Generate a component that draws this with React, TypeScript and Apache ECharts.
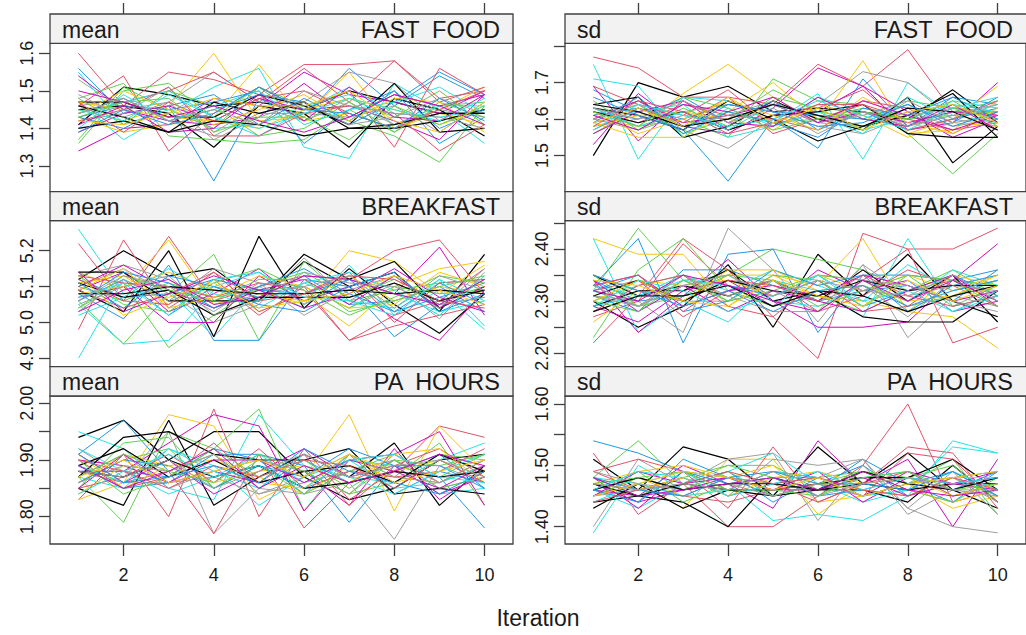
import React, { useEffect, useRef } from "react";
import * as echarts from "echarts";

const iterations = [1, 2, 3, 4, 5, 6, 7, 8, 9, 10];
const chainColors = ["#000000", "#DF536B", "#61D04F", "#2297E6", "#28E2E5", "#CD0BBC", "#F5C710", "#9E9E9E"];
const statNames = ["mean", "sd"];
const variableNames = ["FAST  FOOD", "BREAKFAST", "PA  HOURS"];
const xTickValues = [2, 4, 6, 8, 10];
const xAxisTitle = "Iteration";

const meanFastFood = [
  [1.41, 1.51, 1.49, 1.46, 1.47, 1.45, 1.50, 1.47, 1.44, 1.44],
  [1.60, 1.46, 1.55, 1.53, 1.49, 1.57, 1.57, 1.58, 1.48, 1.50],
  [1.36, 1.50, 1.52, 1.43, 1.51, 1.46, 1.42, 1.38, 1.31, 1.46],
  [1.56, 1.44, 1.46, 1.26, 1.48, 1.43, 1.56, 1.46, 1.54, 1.48],
  [1.47, 1.37, 1.44, 1.51, 1.56, 1.35, 1.32, 1.52, 1.45, 1.36],
  [1.34, 1.40, 1.41, 1.48, 1.46, 1.55, 1.49, 1.47, 1.44, 1.50],
  [1.45, 1.42, 1.46, 1.60, 1.42, 1.43, 1.55, 1.40, 1.45, 1.51],
  [1.53, 1.45, 1.47, 1.55, 1.47, 1.47, 1.55, 1.52, 1.42, 1.45],
  [1.45, 1.46, 1.44, 1.35, 1.46, 1.44, 1.35, 1.48, 1.45, 1.38],
  [1.46, 1.54, 1.34, 1.44, 1.51, 1.45, 1.50, 1.35, 1.56, 1.49],
  [1.48, 1.52, 1.38, 1.37, 1.36, 1.37, 1.45, 1.39, 1.46, 1.47],
  [1.43, 1.46, 1.45, 1.47, 1.50, 1.36, 1.45, 1.50, 1.36, 1.43],
  [1.55, 1.41, 1.45, 1.40, 1.41, 1.46, 1.49, 1.41, 1.46, 1.46],
  [1.54, 1.45, 1.42, 1.41, 1.43, 1.52, 1.43, 1.49, 1.46, 1.49],
  [1.43, 1.39, 1.41, 1.43, 1.57, 1.42, 1.44, 1.40, 1.44, 1.41],
  [1.46, 1.48, 1.42, 1.38, 1.44, 1.44, 1.43, 1.46, 1.39, 1.47],
  [1.47, 1.47, 1.43, 1.43, 1.49, 1.46, 1.41, 1.52, 1.39, 1.40],
  [1.44, 1.47, 1.50, 1.55, 1.47, 1.56, 1.47, 1.58, 1.47, 1.51],
  [1.37, 1.51, 1.45, 1.40, 1.51, 1.42, 1.48, 1.43, 1.50, 1.41],
  [1.44, 1.48, 1.42, 1.45, 1.49, 1.47, 1.41, 1.47, 1.55, 1.49],
  [1.44, 1.47, 1.50, 1.43, 1.38, 1.45, 1.51, 1.44, 1.43, 1.45],
  [1.39, 1.44, 1.46, 1.42, 1.48, 1.45, 1.46, 1.42, 1.37, 1.49],
  [1.47, 1.45, 1.43, 1.42, 1.40, 1.45, 1.48, 1.45, 1.41, 1.45],
  [1.42, 1.44, 1.51, 1.39, 1.46, 1.42, 1.47, 1.41, 1.45, 1.43],
  [1.46, 1.43, 1.39, 1.47, 1.44, 1.47, 1.40, 1.40, 1.42, 1.45],
  [1.42, 1.45, 1.51, 1.38, 1.38, 1.44, 1.46, 1.44, 1.34, 1.41],
  [1.48, 1.41, 1.50, 1.46, 1.38, 1.40, 1.47, 1.39, 1.47, 1.43],
  [1.43, 1.40, 1.46, 1.49, 1.41, 1.48, 1.42, 1.50, 1.40, 1.45],
  [1.40, 1.49, 1.42, 1.46, 1.50, 1.41, 1.45, 1.47, 1.51, 1.44],
  [1.41, 1.46, 1.39, 1.40, 1.49, 1.42, 1.51, 1.43, 1.42, 1.49],
  [1.44, 1.50, 1.45, 1.41, 1.45, 1.49, 1.42, 1.48, 1.47, 1.39],
  [1.49, 1.43, 1.47, 1.37, 1.43, 1.47, 1.41, 1.43, 1.48, 1.44],
  [1.40, 1.42, 1.39, 1.42, 1.41, 1.38, 1.40, 1.41, 1.44, 1.44],
  [1.47, 1.39, 1.47, 1.42, 1.48, 1.50, 1.44, 1.40, 1.45, 1.50],
  [1.43, 1.47, 1.48, 1.39, 1.43, 1.43, 1.37, 1.46, 1.41, 1.46],
  [1.39, 1.45, 1.41, 1.44, 1.51, 1.45, 1.44, 1.40, 1.48, 1.42],
  [1.45, 1.42, 1.49, 1.43, 1.40, 1.44, 1.48, 1.45, 1.42, 1.48],
  [1.50, 1.47, 1.43, 1.46, 1.42, 1.39, 1.43, 1.49, 1.46, 1.41],
  [1.42, 1.41, 1.44, 1.48, 1.46, 1.46, 1.50, 1.42, 1.39, 1.47],
  [1.44, 1.48, 1.42, 1.45, 1.41, 1.50, 1.46, 1.44, 1.43, 1.40],
];

const sdFastFood = [
  [1.50, 1.70, 1.66, 1.69, 1.62, 1.63, 1.62, 1.60, 1.68, 1.59],
  [1.77, 1.74, 1.66, 1.66, 1.64, 1.75, 1.69, 1.79, 1.62, 1.62],
  [1.63, 1.58, 1.60, 1.55, 1.71, 1.65, 1.64, 1.56, 1.45, 1.56],
  [1.68, 1.62, 1.57, 1.43, 1.60, 1.52, 1.71, 1.58, 1.66, 1.64],
  [1.75, 1.49, 1.66, 1.65, 1.59, 1.67, 1.49, 1.70, 1.61, 1.59],
  [1.53, 1.67, 1.58, 1.56, 1.63, 1.74, 1.69, 1.57, 1.59, 1.70],
  [1.60, 1.58, 1.67, 1.75, 1.66, 1.59, 1.76, 1.56, 1.60, 1.69],
  [1.61, 1.65, 1.57, 1.52, 1.60, 1.64, 1.73, 1.70, 1.60, 1.58],
  [1.64, 1.66, 1.55, 1.58, 1.65, 1.60, 1.57, 1.66, 1.48, 1.58],
  [1.69, 1.64, 1.61, 1.68, 1.58, 1.63, 1.68, 1.58, 1.63, 1.61],
  [1.60, 1.64, 1.56, 1.60, 1.68, 1.62, 1.60, 1.58, 1.62, 1.65],
  [1.62, 1.60, 1.66, 1.59, 1.65, 1.57, 1.62, 1.57, 1.60, 1.63],
  [1.71, 1.69, 1.55, 1.63, 1.58, 1.66, 1.62, 1.58, 1.65, 1.63],
  [1.69, 1.54, 1.65, 1.57, 1.61, 1.62, 1.69, 1.62, 1.55, 1.60],
  [1.59, 1.55, 1.55, 1.62, 1.70, 1.60, 1.64, 1.56, 1.57, 1.65],
  [1.58, 1.60, 1.62, 1.64, 1.62, 1.58, 1.56, 1.61, 1.63, 1.62],
  [1.63, 1.61, 1.57, 1.65, 1.60, 1.54, 1.58, 1.61, 1.67, 1.55],
  [1.62, 1.59, 1.64, 1.61, 1.60, 1.57, 1.65, 1.63, 1.56, 1.62],
  [1.56, 1.63, 1.58, 1.62, 1.59, 1.60, 1.63, 1.60, 1.61, 1.62],
  [1.61, 1.63, 1.60, 1.64, 1.62, 1.61, 1.60, 1.64, 1.59, 1.66],
  [1.59, 1.62, 1.64, 1.55, 1.58, 1.62, 1.57, 1.60, 1.64, 1.62],
  [1.60, 1.65, 1.59, 1.61, 1.64, 1.59, 1.62, 1.59, 1.62, 1.61],
  [1.58, 1.61, 1.62, 1.60, 1.57, 1.64, 1.61, 1.55, 1.59, 1.58],
  [1.60, 1.57, 1.61, 1.60, 1.64, 1.59, 1.58, 1.62, 1.58, 1.60],
  [1.62, 1.59, 1.62, 1.57, 1.61, 1.62, 1.64, 1.56, 1.55, 1.55],
  [1.57, 1.63, 1.59, 1.66, 1.56, 1.60, 1.64, 1.60, 1.57, 1.59],
  [1.65, 1.57, 1.63, 1.58, 1.66, 1.63, 1.57, 1.65, 1.63, 1.60],
  [1.59, 1.66, 1.56, 1.62, 1.59, 1.55, 1.63, 1.61, 1.66, 1.60],
  [1.63, 1.58, 1.62, 1.57, 1.64, 1.61, 1.56, 1.66, 1.60, 1.64],
  [1.56, 1.62, 1.65, 1.59, 1.58, 1.66, 1.60, 1.58, 1.64, 1.57],
  [1.62, 1.56, 1.60, 1.65, 1.61, 1.57, 1.66, 1.59, 1.56, 1.63],
  [1.60, 1.64, 1.58, 1.61, 1.65, 1.59, 1.61, 1.65, 1.59, 1.61],
  [1.64, 1.62, 1.58, 1.60, 1.64, 1.61, 1.58, 1.63, 1.62, 1.57],
  [1.58, 1.65, 1.62, 1.56, 1.59, 1.64, 1.64, 1.57, 1.60, 1.65],
  [1.62, 1.58, 1.66, 1.63, 1.57, 1.60, 1.62, 1.60, 1.65, 1.58],
  [1.66, 1.61, 1.57, 1.64, 1.62, 1.58, 1.59, 1.64, 1.58, 1.62],
  [1.57, 1.64, 1.61, 1.58, 1.60, 1.65, 1.61, 1.57, 1.63, 1.66],
  [1.61, 1.57, 1.64, 1.62, 1.66, 1.59, 1.65, 1.61, 1.57, 1.61],
  [1.59, 1.63, 1.58, 1.66, 1.59, 1.63, 1.57, 1.62, 1.64, 1.59],
  [1.63, 1.60, 1.65, 1.59, 1.63, 1.56, 1.62, 1.58, 1.61, 1.64],
];

const meanBreakfast = [
  [5.12, 5.20, 5.13, 5.15, 5.06, 5.17, 5.10, 5.14, 5.03, 5.19],
  [5.22, 5.06, 5.24, 5.06, 5.10, 5.13, 5.12, 5.20, 5.23, 5.08],
  [5.06, 4.94, 5.08, 5.19, 4.95, 5.17, 5.06, 5.09, 5.11, 5.12],
  [5.08, 5.01, 5.16, 4.95, 4.95, 5.12, 5.10, 4.96, 5.05, 5.07],
  [5.26, 5.08, 5.09, 4.96, 5.10, 5.04, 5.16, 5.02, 5.09, 4.98],
  [5.09, 5.14, 5.03, 5.08, 5.15, 5.05, 5.12, 5.08, 5.21, 5.02],
  [5.14, 5.09, 5.23, 5.05, 5.09, 5.05, 5.20, 5.17, 5.08, 5.16],
  [5.10, 5.15, 5.08, 5.00, 5.05, 5.18, 5.06, 5.13, 5.04, 5.12],
  [5.09, 5.03, 5.20, 4.96, 5.24, 5.04, 5.15, 5.05, 4.97, 5.08],
  [4.98, 5.23, 5.04, 5.12, 5.02, 5.10, 4.95, 5.02, 5.06, 5.15],
  [5.04, 5.11, 4.93, 5.02, 5.10, 5.14, 5.07, 5.12, 5.06, 5.10],
  [5.06, 5.12, 5.02, 5.10, 5.07, 5.13, 5.05, 5.06, 5.10, 5.03],
  [4.90, 5.12, 5.06, 5.10, 5.14, 5.05, 5.12, 5.08, 5.03, 5.06],
  [5.07, 5.10, 5.00, 5.00, 5.13, 5.06, 5.10, 5.01, 4.95, 5.09],
  [5.11, 5.13, 5.05, 5.12, 5.03, 5.08, 4.99, 5.10, 5.15, 5.17],
  [5.13, 5.16, 5.12, 5.04, 5.08, 5.10, 5.04, 5.11, 5.01, 5.14],
  [5.14, 5.14, 5.06, 5.06, 5.06, 5.19, 5.12, 5.17, 5.04, 5.10],
  [5.09, 5.04, 5.08, 5.14, 5.06, 5.08, 5.14, 5.00, 5.11, 5.12],
  [5.10, 5.06, 5.11, 5.07, 5.09, 5.10, 5.04, 5.10, 5.08, 5.09],
  [5.12, 5.07, 5.08, 5.12, 5.09, 5.08, 5.12, 5.03, 5.07, 5.11],
  [5.05, 4.94, 4.95, 5.09, 5.06, 5.11, 5.06, 5.04, 5.12, 4.99],
  [5.10, 5.16, 5.09, 5.04, 5.09, 5.12, 5.05, 5.13, 5.04, 5.10],
  [5.08, 5.10, 5.14, 5.09, 5.08, 5.06, 5.13, 5.06, 5.10, 5.08],
  [5.03, 5.12, 5.06, 5.15, 5.11, 5.02, 5.09, 5.13, 5.05, 5.07],
  [5.11, 5.07, 5.09, 5.02, 5.07, 5.07, 5.07, 5.11, 5.06, 5.09],
  [5.13, 5.11, 5.10, 5.07, 5.11, 5.09, 4.95, 4.99, 5.02, 5.05],
  [5.13, 5.05, 5.03, 5.11, 5.15, 5.09, 5.02, 5.07, 5.13, 5.11],
  [5.06, 5.14, 5.11, 5.04, 5.10, 5.15, 5.08, 5.03, 5.11, 5.05],
  [5.02, 5.07, 5.15, 5.08, 5.04, 5.11, 5.14, 5.09, 5.02, 5.13],
  [5.14, 5.03, 5.08, 5.13, 5.09, 5.04, 5.08, 5.15, 5.07, 5.03],
  [5.09, 5.15, 5.04, 5.07, 5.13, 5.10, 5.04, 5.05, 5.14, 5.10],
  [5.05, 5.10, 5.13, 5.02, 5.06, 5.14, 5.11, 5.10, 5.04, 5.15],
  [5.08, 5.08, 5.10, 5.09, 5.08, 5.08, 5.09, 5.08, 5.09, 5.08],
  [5.12, 5.06, 5.05, 5.14, 5.03, 5.08, 5.13, 5.12, 5.06, 5.04],
  [5.04, 5.13, 5.09, 5.06, 5.12, 5.12, 5.03, 5.06, 5.10, 5.13],
  [5.11, 5.04, 5.13, 5.10, 5.05, 5.03, 5.10, 5.14, 5.03, 5.08],
  [5.07, 5.11, 5.02, 5.12, 5.14, 5.07, 5.06, 5.02, 5.12, 5.06],
  [5.03, 5.09, 5.12, 5.05, 5.07, 5.13, 5.12, 5.08, 5.05, 5.12],
  [5.13, 5.02, 5.07, 5.11, 5.04, 5.06, 5.08, 5.13, 5.09, 5.05],
  [5.06, 5.13, 5.10, 5.03, 5.11, 5.10, 5.13, 5.04, 5.13, 5.09],
];

const sdBreakfast = [
  [2.30, 2.25, 2.29, 2.37, 2.25, 2.39, 2.31, 2.39, 2.30, 2.27],
  [2.22, 2.31, 2.42, 2.36, 2.27, 2.19, 2.43, 2.40, 2.40, 2.44],
  [2.32, 2.44, 2.34, 2.35, 2.40, 2.38, 2.36, 2.32, 2.34, 2.33],
  [2.33, 2.42, 2.22, 2.39, 2.40, 2.24, 2.35, 2.35, 2.34, 2.36],
  [2.42, 2.24, 2.30, 2.26, 2.34, 2.32, 2.27, 2.42, 2.29, 2.31],
  [2.34, 2.24, 2.31, 2.38, 2.30, 2.25, 2.25, 2.26, 2.34, 2.41],
  [2.42, 2.39, 2.39, 2.29, 2.35, 2.33, 2.42, 2.28, 2.27, 2.21],
  [2.31, 2.30, 2.24, 2.44, 2.36, 2.26, 2.37, 2.23, 2.31, 2.29],
  [2.35, 2.31, 2.33, 2.31, 2.34, 2.30, 2.36, 2.30, 2.35, 2.26],
  [2.27, 2.30, 2.41, 2.33, 2.31, 2.35, 2.34, 2.40, 2.22, 2.25],
  [2.23, 2.36, 2.42, 2.32, 2.29, 2.31, 2.28, 2.32, 2.36, 2.31],
  [2.31, 2.28, 2.36, 2.36, 2.33, 2.30, 2.32, 2.33, 2.30, 2.36],
  [2.33, 2.31, 2.35, 2.32, 2.36, 2.33, 2.30, 2.37, 2.32, 2.34],
  [2.29, 2.26, 2.32, 2.34, 2.29, 2.36, 2.32, 2.34, 2.28, 2.30],
  [2.26, 2.32, 2.30, 2.35, 2.35, 2.31, 2.30, 2.28, 2.35, 2.33],
  [2.35, 2.32, 2.30, 2.30, 2.32, 2.28, 2.37, 2.31, 2.33, 2.32],
  [2.29, 2.32, 2.32, 2.36, 2.30, 2.32, 2.27, 2.26, 2.26, 2.32],
  [2.32, 2.34, 2.27, 2.32, 2.34, 2.28, 2.31, 2.36, 2.33, 2.29],
  [2.30, 2.33, 2.35, 2.30, 2.32, 2.35, 2.34, 2.29, 2.31, 2.34],
  [2.34, 2.30, 2.31, 2.33, 2.31, 2.34, 2.29, 2.32, 2.35, 2.31],
  [2.32, 2.29, 2.33, 2.35, 2.30, 2.29, 2.33, 2.30, 2.36, 2.33],
  [2.33, 2.35, 2.29, 2.32, 2.33, 2.31, 2.35, 2.33, 2.30, 2.32],
  [2.30, 2.34, 2.33, 2.34, 2.31, 2.35, 2.32, 2.35, 2.32, 2.35],
  [2.32, 2.29, 2.34, 2.31, 2.34, 2.30, 2.33, 2.27, 2.34, 2.31],
  [2.31, 2.34, 2.30, 2.34, 2.32, 2.31, 2.34, 2.32, 2.33, 2.33],
  [2.28, 2.33, 2.35, 2.29, 2.27, 2.34, 2.28, 2.29, 2.35, 2.30],
  [2.35, 2.29, 2.31, 2.35, 2.34, 2.29, 2.32, 2.35, 2.29, 2.33],
  [2.32, 2.35, 2.28, 2.30, 2.36, 2.33, 2.35, 2.28, 2.33, 2.35],
  [2.29, 2.31, 2.34, 2.33, 2.29, 2.35, 2.29, 2.34, 2.28, 2.32],
  [2.34, 2.28, 2.33, 2.28, 2.32, 2.30, 2.28, 2.32, 2.35, 2.29],
  [2.30, 2.34, 2.30, 2.36, 2.36, 2.32, 2.33, 2.30, 2.31, 2.35],
  [2.33, 2.29, 2.35, 2.31, 2.28, 2.28, 2.34, 2.33, 2.30, 2.28],
  [2.28, 2.31, 2.31, 2.33, 2.29, 2.32, 2.31, 2.28, 2.31, 2.33],
  [2.33, 2.35, 2.28, 2.34, 2.33, 2.30, 2.35, 2.31, 2.29, 2.31],
  [2.30, 2.28, 2.34, 2.30, 2.35, 2.34, 2.29, 2.35, 2.34, 2.29],
  [2.35, 2.32, 2.29, 2.32, 2.28, 2.32, 2.33, 2.29, 2.32, 2.34],
  [2.29, 2.34, 2.32, 2.28, 2.31, 2.35, 2.30, 2.32, 2.28, 2.31],
  [2.32, 2.30, 2.35, 2.33, 2.30, 2.28, 2.34, 2.30, 2.34, 2.30],
  [2.34, 2.33, 2.30, 2.29, 2.34, 2.31, 2.29, 2.34, 2.30, 2.33],
  [2.31, 2.29, 2.33, 2.35, 2.31, 2.34, 2.32, 2.31, 2.35, 2.30],
];

const meanPaHours = [
  [1.94, 1.97, 1.90, 1.95, 1.95, 1.87, 1.83, 1.85, 1.90, 1.91],
  [1.83, 1.91, 1.80, 1.99, 1.80, 1.92, 1.83, 1.88, 1.96, 1.94],
  [1.87, 1.79, 1.95, 1.92, 1.99, 1.81, 1.91, 1.87, 1.93, 1.82],
  [1.91, 1.97, 1.88, 1.91, 1.91, 1.89, 1.79, 1.89, 1.87, 1.78],
  [1.95, 1.92, 1.85, 1.83, 1.98, 1.89, 1.87, 1.86, 1.90, 1.93],
  [1.88, 1.88, 1.93, 1.98, 1.96, 1.81, 1.90, 1.91, 1.95, 1.82],
  [1.83, 1.86, 1.98, 1.96, 1.83, 1.87, 1.98, 1.81, 1.96, 1.88],
  [1.92, 1.87, 1.95, 1.77, 1.85, 1.84, 1.86, 1.76, 1.89, 1.86],
  [1.85, 1.82, 1.97, 1.82, 1.87, 1.91, 1.87, 1.93, 1.82, 1.89],
  [1.88, 1.86, 1.88, 1.77, 1.91, 1.78, 1.86, 1.90, 1.86, 1.89],
  [1.85, 1.93, 1.94, 1.85, 1.90, 1.88, 1.84, 1.86, 1.91, 1.90],
  [1.88, 1.88, 1.87, 1.92, 1.90, 1.84, 1.91, 1.84, 1.88, 1.86],
  [1.87, 1.85, 1.92, 1.89, 1.82, 1.87, 1.90, 1.89, 1.84, 1.85],
  [1.90, 1.89, 1.86, 1.88, 1.86, 1.88, 1.82, 1.92, 1.83, 1.88],
  [1.86, 1.91, 1.89, 1.90, 1.87, 1.84, 1.89, 1.87, 1.86, 1.90],
  [1.89, 1.86, 1.86, 1.87, 1.84, 1.86, 1.88, 1.90, 1.85, 1.87],
  [1.87, 1.94, 1.95, 1.91, 1.90, 1.90, 1.92, 1.84, 1.85, 1.84],
  [1.90, 1.85, 1.87, 1.93, 1.86, 1.91, 1.82, 1.89, 1.92, 1.87],
  [1.86, 1.90, 1.92, 1.85, 1.89, 1.84, 1.88, 1.91, 1.87, 1.91],
  [1.89, 1.85, 1.86, 1.91, 1.85, 1.90, 1.86, 1.88, 1.91, 1.85],
  [1.92, 1.88, 1.84, 1.87, 1.91, 1.86, 1.90, 1.85, 1.86, 1.89],
  [1.91, 1.86, 1.90, 1.84, 1.88, 1.92, 1.87, 1.89, 1.84, 1.87],
  [1.84, 1.89, 1.88, 1.91, 1.86, 1.85, 1.91, 1.88, 1.90, 1.86],
  [1.87, 1.91, 1.85, 1.88, 1.90, 1.88, 1.84, 1.91, 1.86, 1.90],
  [1.89, 1.92, 1.87, 1.90, 1.86, 1.88, 1.89, 1.86, 1.91, 1.88],
  [1.85, 1.87, 1.91, 1.86, 1.92, 1.85, 1.88, 1.87, 1.88, 1.92],
  [1.90, 1.84, 1.87, 1.92, 1.87, 1.90, 1.85, 1.90, 1.85, 1.87],
  [1.86, 1.90, 1.89, 1.85, 1.89, 1.87, 1.92, 1.89, 1.89, 1.85],
  [1.89, 1.86, 1.92, 1.88, 1.85, 1.91, 1.87, 1.84, 1.88, 1.91],
  [1.85, 1.91, 1.86, 1.90, 1.90, 1.86, 1.90, 1.88, 1.85, 1.89],
  [1.91, 1.85, 1.89, 1.86, 1.88, 1.89, 1.86, 1.91, 1.92, 1.86],
  [1.86, 1.89, 1.88, 1.91, 1.84, 1.87, 1.91, 1.87, 1.86, 1.90],
  [1.88, 1.87, 1.90, 1.87, 1.89, 1.85, 1.86, 1.88, 1.87, 1.88],
  [1.90, 1.88, 1.85, 1.89, 1.87, 1.90, 1.89, 1.85, 1.90, 1.86],
  [1.87, 1.91, 1.88, 1.86, 1.91, 1.88, 1.84, 1.90, 1.89, 1.91],
  [1.91, 1.86, 1.87, 1.89, 1.86, 1.92, 1.88, 1.86, 1.84, 1.88],
  [1.84, 1.88, 1.91, 1.87, 1.89, 1.85, 1.90, 1.91, 1.87, 1.86],
  [1.89, 1.85, 1.88, 1.92, 1.85, 1.89, 1.86, 1.88, 1.91, 1.89],
  [1.87, 1.90, 1.86, 1.88, 1.90, 1.87, 1.91, 1.86, 1.88, 1.90],
  [1.88, 1.87, 1.90, 1.85, 1.88, 1.91, 1.87, 1.89, 1.90, 1.87],
];

const sdPaHours = [
  [1.51, 1.46, 1.53, 1.51, 1.45, 1.53, 1.47, 1.52, 1.46, 1.43],
  [1.52, 1.42, 1.47, 1.40, 1.40, 1.45, 1.50, 1.60, 1.44, 1.46],
  [1.48, 1.54, 1.47, 1.50, 1.48, 1.48, 1.49, 1.47, 1.51, 1.42],
  [1.54, 1.52, 1.49, 1.48, 1.45, 1.47, 1.50, 1.45, 1.48, 1.49],
  [1.39, 1.50, 1.46, 1.47, 1.41, 1.42, 1.41, 1.45, 1.54, 1.52],
  [1.46, 1.45, 1.50, 1.47, 1.43, 1.54, 1.47, 1.51, 1.40, 1.51],
  [1.43, 1.47, 1.43, 1.51, 1.51, 1.42, 1.47, 1.46, 1.44, 1.46],
  [1.40, 1.51, 1.47, 1.51, 1.52, 1.41, 1.50, 1.43, 1.40, 1.39],
  [1.44, 1.45, 1.44, 1.40, 1.48, 1.46, 1.46, 1.44, 1.50, 1.44],
  [1.49, 1.51, 1.49, 1.43, 1.53, 1.44, 1.47, 1.53, 1.52, 1.43],
  [1.47, 1.45, 1.48, 1.50, 1.50, 1.46, 1.49, 1.48, 1.50, 1.44],
  [1.47, 1.44, 1.51, 1.48, 1.47, 1.46, 1.51, 1.47, 1.44, 1.49],
  [1.46, 1.43, 1.47, 1.49, 1.52, 1.47, 1.44, 1.46, 1.53, 1.52],
  [1.48, 1.43, 1.49, 1.46, 1.49, 1.48, 1.45, 1.49, 1.47, 1.46],
  [1.47, 1.49, 1.50, 1.48, 1.50, 1.44, 1.45, 1.47, 1.43, 1.45],
  [1.45, 1.46, 1.48, 1.45, 1.51, 1.50, 1.51, 1.43, 1.49, 1.42],
  [1.43, 1.47, 1.43, 1.46, 1.46, 1.47, 1.48, 1.48, 1.51, 1.46],
  [1.45, 1.47, 1.45, 1.44, 1.46, 1.47, 1.45, 1.52, 1.51, 1.44],
  [1.46, 1.49, 1.44, 1.47, 1.48, 1.45, 1.49, 1.46, 1.44, 1.48],
  [1.48, 1.45, 1.47, 1.49, 1.44, 1.48, 1.45, 1.47, 1.49, 1.45],
  [1.44, 1.47, 1.49, 1.45, 1.47, 1.46, 1.48, 1.49, 1.45, 1.47],
  [1.47, 1.44, 1.46, 1.48, 1.46, 1.49, 1.44, 1.48, 1.47, 1.49],
  [1.45, 1.48, 1.45, 1.46, 1.49, 1.47, 1.46, 1.45, 1.48, 1.48],
  [1.47, 1.46, 1.45, 1.48, 1.47, 1.48, 1.51, 1.42, 1.46, 1.45],
  [1.47, 1.45, 1.47, 1.46, 1.45, 1.46, 1.47, 1.46, 1.47, 1.47],
  [1.49, 1.46, 1.48, 1.45, 1.47, 1.44, 1.47, 1.49, 1.45, 1.47],
  [1.45, 1.48, 1.46, 1.49, 1.45, 1.47, 1.49, 1.47, 1.48, 1.45],
  [1.46, 1.44, 1.49, 1.47, 1.48, 1.45, 1.46, 1.48, 1.46, 1.49],
  [1.48, 1.47, 1.45, 1.46, 1.49, 1.48, 1.45, 1.46, 1.49, 1.46],
  [1.45, 1.49, 1.47, 1.48, 1.46, 1.46, 1.48, 1.45, 1.47, 1.48],
  [1.47, 1.46, 1.48, 1.45, 1.48, 1.49, 1.47, 1.48, 1.45, 1.47],
  [1.49, 1.47, 1.46, 1.47, 1.45, 1.47, 1.45, 1.47, 1.48, 1.44],
  [1.46, 1.48, 1.46, 1.47, 1.47, 1.46, 1.49, 1.47, 1.46, 1.48],
  [1.44, 1.46, 1.47, 1.49, 1.47, 1.48, 1.46, 1.45, 1.48, 1.46],
  [1.47, 1.48, 1.49, 1.46, 1.46, 1.45, 1.48, 1.49, 1.46, 1.47],
  [1.48, 1.46, 1.45, 1.48, 1.49, 1.47, 1.47, 1.46, 1.49, 1.45],
  [1.46, 1.49, 1.48, 1.45, 1.47, 1.49, 1.46, 1.48, 1.47, 1.48],
  [1.48, 1.45, 1.46, 1.47, 1.48, 1.46, 1.49, 1.46, 1.45, 1.46],
  [1.45, 1.47, 1.49, 1.48, 1.46, 1.48, 1.45, 1.47, 1.48, 1.49],
  [1.47, 1.46, 1.47, 1.46, 1.49, 1.45, 1.47, 1.48, 1.46, 1.46],
];

// y-axis ticks and labelled ticks per panel
const meanFastFoodTicks = [1.3, 1.4, 1.5, 1.6];
const meanFastFoodLabels = [1.3, 1.4, 1.5, 1.6];
const sdFastFoodTicks = [1.5, 1.6, 1.7, 1.8];
const sdFastFoodLabels = [1.5, 1.6, 1.7];
const meanBreakfastTicks = [4.9, 5.0, 5.1, 5.2];
const meanBreakfastLabels = [4.9, 5.0, 5.1, 5.2];
const sdBreakfastTicks = [2.2, 2.25, 2.3, 2.35, 2.4, 2.45];
const sdBreakfastLabels = [2.2, 2.3, 2.4];
const meanPaHoursTicks = [1.75, 1.8, 1.85, 1.9, 1.95, 2.0];
const meanPaHoursLabels = [1.8, 1.9, 2.0];
const sdPaHoursTicks = [1.4, 1.45, 1.5, 1.55, 1.6];
const sdPaHoursLabels = [1.4, 1.5, 1.6];

const FONT = "'Liberation Sans', Arial, Helvetica, sans-serif";
const FRAME = "#404040";
const TEXT = "#1a1a1a";

// layout
const colLeft = [50, 565];
const colWidth = [463, 464];
const stripTop = [14, 191.7, 366.7];
const panelTop = [43.3, 220.7, 396];
const panelBottom = [191.7, 366.7, 544];

const panels = [
  { row: 0, col: 0, data: meanFastFood, min: 1.2316, max: 1.6266, ticks: meanFastFoodTicks, labels: meanFastFoodLabels, digits: 1 },
  { row: 0, col: 1, data: sdFastFood, min: 1.401, max: 1.8076, ticks: sdFastFoodTicks, labels: sdFastFoodLabels, digits: 1 },
  { row: 1, col: 0, data: meanBreakfast, min: 4.8766, max: 5.2836, ticks: meanBreakfastTicks, labels: meanBreakfastLabels, digits: 1 },
  { row: 1, col: 1, data: sdBreakfast, min: 2.1743, max: 2.4543, ticks: sdBreakfastTicks, labels: sdBreakfastLabels, digits: 2 },
  { row: 2, col: 0, data: meanPaHours, min: 1.7518, max: 2.0129, ticks: meanPaHoursTicks, labels: meanPaHoursLabels, digits: 2 },
  { row: 2, col: 1, data: sdPaHours, min: 1.3718, max: 1.613, ticks: sdPaHoursTicks, labels: sdPaHoursLabels, digits: 2 },
];

function buildOption() {
  const grid: any[] = [];
  const xAxis: any[] = [];
  const yAxis: any[] = [];
  const series: any[] = [];
  const graphic: any[] = [];

  panels.forEach((p, gi) => {
    const r = p.row;
    const c = p.col;
    grid.push({
      left: colLeft[c],
      top: panelTop[r],
      width: colWidth[c],
      height: panelBottom[r] - panelTop[r],
      show: true,
      borderColor: FRAME,
      borderWidth: 1.3,
      backgroundColor: "#ffffff",
      containLabel: false,
    });
    xAxis.push({
      type: "value",
      gridIndex: gi,
      min: 0.37,
      max: 10.63,
      show: r !== 1,
      position: r === 0 ? "top" : "bottom",
      offset: r === 0 ? panelTop[0] - stripTop[0] : 0,
      axisLine: { show: false },
      splitLine: { show: false },
      axisTick: {
        show: true,
        length: r === 0 ? 11 : 12,
        customValues: xTickValues,
        lineStyle: { color: FRAME, width: 1.3 },
      },
      axisLabel: {
        show: r === 2,
        customValues: xTickValues,
        fontSize: 18,
        margin: 22,
        color: TEXT,
        fontFamily: FONT,
      },
    });
    yAxis.push({
      type: "value",
      gridIndex: gi,
      min: p.min,
      max: p.max,
      axisLine: { show: false },
      splitLine: { show: false },
      axisTick: {
        show: true,
        length: 11,
        customValues: p.ticks,
        lineStyle: { color: FRAME, width: 1.3 },
      },
      axisLabel: {
        customValues: p.labels,
        rotate: 90,
        fontSize: 18,
        margin: 14,
        color: TEXT,
        fontFamily: FONT,
        formatter: (v: number) => v.toFixed(p.digits),
      },
    });
    p.data.forEach((chain, ci) => {
      series.push({
        type: "line",
        xAxisIndex: gi,
        yAxisIndex: gi,
        data: chain.map((v, i) => [iterations[i], v]),
        symbol: "none",
        silent: true,
        emphasis: { disabled: true },
        lineStyle: { color: chainColors[ci % chainColors.length], width: ci % chainColors.length === 0 ? 1.2 : 1 },
      });
    });

    // strip
    const sTop = stripTop[r];
    const sH = panelTop[r] - stripTop[r];
    graphic.push({
      type: "rect",
      shape: { x: colLeft[c], y: sTop, width: colWidth[c], height: sH },
      style: { fill: "#F2F2F2", stroke: FRAME, lineWidth: 1.3 },
      silent: true,
    });
    graphic.push({
      type: "text",
      x: colLeft[c] + 12,
      y: sTop + sH / 2 + 1,
      style: { text: statNames[c], fontSize: 23, fontFamily: FONT, fill: TEXT, textAlign: "left", textVerticalAlign: "middle" },
      silent: true,
    });
    graphic.push({
      type: "text",
      x: c === 0 ? 500 : 1013,
      y: sTop + sH / 2 + 1,
      style: { text: variableNames[r], fontSize: 23.5, fontFamily: FONT, fill: TEXT, textAlign: "right", textVerticalAlign: "middle" },
      silent: true,
    });
  });

  graphic.push({
    type: "text",
    x: 538,
    y: 618,
    style: { text: xAxisTitle, fontSize: 23, fontFamily: FONT, fill: TEXT, textAlign: "center", textVerticalAlign: "middle" },
    silent: true,
  });

  return {
    animation: false,
    backgroundColor: "#ffffff",
    grid,
    xAxis,
    yAxis,
    series,
    graphic,
  };
}

export default function App() {
  const ref = useRef<HTMLDivElement>(null);
  useEffect(() => {
    if (!ref.current) return;
    const chart = echarts.init(ref.current, undefined, { renderer: "svg" });
    chart.setOption(buildOption() as any);
    return () => chart.dispose();
  }, []);
  return <div ref={ref} style={{ position: "fixed", left: 0, top: 0, width: 1026, height: 635 }} />;
}
